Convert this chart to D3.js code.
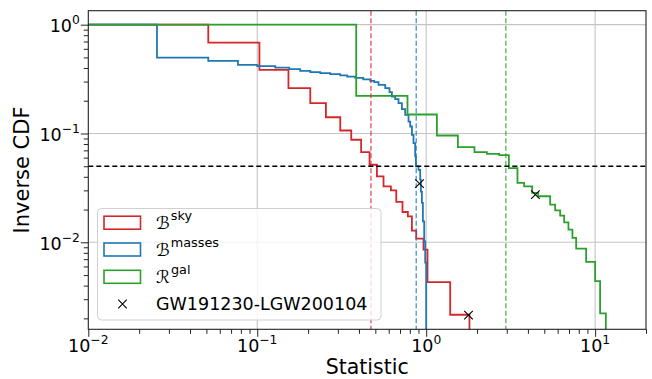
<!DOCTYPE html>
<html>
<head>
<meta charset="utf-8">
<script src="https://cdn.jsdelivr.net/npm/d3@7/dist/d3.min.js"></script>
<style>
  body { margin: 0; background: #fff; }
  svg { display: block; font-family: "DejaVu Sans", sans-serif; }
</style>
</head>
<body>
<svg width="652" height="379"></svg>
<script>
// ---- data ----
// inverse CDF steps: position of each drop and the level after it (0 = falls off the bottom)
var skyX = [0.0513, 0.103, 0.153, 0.206, 0.255, 0.310, 0.360, 0.412, 0.462, 0.511, 0.559,
            0.618, 0.665, 0.724, 0.779, 0.823, 0.873, 0.964, 1.018, 1.387, 1.803];
var skyY = [0.684, 0.384, 0.261, 0.190, 0.141, 0.1065, 0.0876, 0.0675, 0.0516, 0.0403, 0.0327,
            0.0300, 0.0235, 0.0190, 0.0173, 0.0128, 0.0108, 0.00857, 0.0043, 0.00216, 0];

var massX = [0.0255, 0.0513, 0.0769, 0.100, 0.1278, 0.1546, 0.1796, 0.206, 0.236, 0.2704, 0.310,
             0.3408, 0.380, 0.4239, 0.4662, 0.4925, 0.5223, 0.5721, 0.6065, 0.6266, 0.6556, 0.6857,
             0.7182, 0.7511, 0.7858, 0.8041, 0.8230, 0.8411, 0.8607, 0.8692, 0.9004, 0.9215, 0.9302,
             0.9432, 0.956, 0.973, 0.9865, 1.0];
var massY = [0.498, 0.4645, 0.4269, 0.4152, 0.4031, 0.3898, 0.3761, 0.3659, 0.3583, 0.3508, 0.342,
             0.3334, 0.3243, 0.3143, 0.3044, 0.2962, 0.2797, 0.2609, 0.2398, 0.2185, 0.2068, 0.190,
             0.1674, 0.1484, 0.1288, 0.1159, 0.0973, 0.0816, 0.0615, 0.0498, 0.0464, 0.0376, 0.0292,
             0.0230, 0.01558, 0.01021, 0.00651, 0];

var galX = [0.3853, 0.775, 1.157, 1.540, 1.931, 2.287, 2.704, 3.086, 3.469, 3.801, 4.239, 4.60,
            5.417, 5.799, 6.207, 6.555, 6.95, 7.339, 7.72, 8.845, 10.0, 10.70, 11.57];
var galY = [0.2218, 0.1494, 0.0958, 0.0750, 0.0675, 0.0651, 0.0633, 0.0481, 0.0351, 0.0326, 0.0285, 0.0265,
            0.02218, 0.01966, 0.01758, 0.01526, 0.01308, 0.01098, 0.00876, 0.00661, 0.00439, 0.00222, 0];

// thresholds (dashed lines) and the event values (x markers)
var threshX = [0.471, 0.873, 2.96];
var threshY = 0.05;
var eventX = [1.78, 0.913, 4.43];
var eventY = [0.00214, 0.0346, 0.0274];

var seriesNames = ["sky", "masses", "gal"];
var seriesLetters = ["\u212C", "\u212C", "\u211B"];
var colors = ["#d62728", "#1f77b4", "#2ca02c"];
var eventLabel = "GW191230-LGW200104";

var xMajor = [0.01, 0.1, 1, 10];
var xExp = ["\u22122", "\u22121", "0", "1"];
var yMajor = [0.01, 0.1, 1];
var yExp = ["\u22122", "\u22121", "0"];

// ---- layout ----
var width = 652, height = 379;
var margin = {top: 10.7, right: 6, bottom: 49.7, left: 88.3};

var svg = d3.select("svg");

var x = d3.scaleLog().domain([0.01, 20]).range([margin.left, width - margin.right]);
var y = d3.scaleLog().domain([0.001587, 1.344]).range([height - margin.bottom, margin.top]);

function minors(lo, hi) {
  var out = [];
  for (var e = -4; e <= 2; e++) {
    for (var m = 2; m <= 9; m++) {
      var v = m * Math.pow(10, e);
      if (v >= lo * 0.9999 && v <= hi * 1.0001) out.push(v);
    }
  }
  return out;
}

svg.append("defs").append("clipPath").attr("id", "plotclip")
  .append("rect")
  .attr("x", margin.left).attr("y", margin.top)
  .attr("width", width - margin.left - margin.right)
  .attr("height", height - margin.top - margin.bottom);

// grid
var grid = svg.append("g");
grid.selectAll(".gx").data(xMajor.filter(function(d){ return d > 0.01; })).enter()
  .append("line")
  .attr("x1", function(d){ return x(d); }).attr("x2", function(d){ return x(d); })
  .attr("y1", margin.top).attr("y2", height - margin.bottom)
  .attr("stroke", "#c4c4c4").attr("stroke-width", 1.1);
grid.selectAll(".gy").data(yMajor).enter()
  .append("line")
  .attr("y1", function(d){ return y(d); }).attr("y2", function(d){ return y(d); })
  .attr("x1", margin.left).attr("x2", width - margin.right)
  .attr("stroke", "#c4c4c4").attr("stroke-width", 1.1);

// step curves
var plot = svg.append("g").attr("clip-path", "url(#plotclip)");
var bottomY = y.range()[0] + 2;
var line = d3.line()
  .x(function(d){ return x(d[0]); })
  .y(function(d){ return d[1] > 0 ? y(d[1]) : bottomY; })
  .curve(d3.curveStepAfter);

var seriesX = [skyX, massX, galX];
var seriesY = [skyY, massY, galY];
seriesX.forEach(function(xs, k) {
  var pts = [[0.01, 1]].concat(xs.map(function(v, i){ return [v, seriesY[k][i]]; }));
  plot.append("path")
    .attr("d", line(pts))
    .attr("fill", "none")
    .attr("stroke", colors[k])
    .attr("stroke-width", 1.8)
    .attr("stroke-linejoin", "miter");
});

// dashed thresholds
threshX.forEach(function(v, k) {
  plot.append("line")
    .attr("x1", x(v)).attr("x2", x(v))
    .attr("y1", margin.top).attr("y2", height - margin.bottom)
    .attr("stroke", colors[k]).attr("stroke-opacity", 0.75)
    .attr("stroke-width", 1.4).attr("stroke-dasharray", "5,2.5");
});
plot.append("line")
  .attr("x1", margin.left).attr("x2", width - margin.right)
  .attr("y1", y(threshY)).attr("y2", y(threshY))
  .attr("stroke", "#000").attr("stroke-width", 1.4).attr("stroke-dasharray", "5,3");

// event markers
function xMark(g, cx, cy, r) {
  g.append("path")
    .attr("d", "M" + (cx - r) + "," + (cy - r) + "L" + (cx + r) + "," + (cy + r) +
               "M" + (cx - r) + "," + (cy + r) + "L" + (cx + r) + "," + (cy - r))
    .attr("stroke", "#000").attr("stroke-width", 1.1).attr("fill", "none");
}
eventX.forEach(function(v, i){ xMark(svg, x(v), y(eventY[i]), 4.3); });

// axes
var fontTick = 17.5, fontSup = 12.3;
var xAxisG = svg.append("g").attr("transform", "translate(0," + (height - margin.bottom) + ")");
xAxisG.call(d3.axisBottom(x).tickValues(xMajor).tickSize(7.5).tickFormat(""));
xAxisG.append("g").call(d3.axisBottom(x).tickValues(minors(0.01, 20)).tickSize(4.5).tickFormat(""));
var yAxisG = svg.append("g").attr("transform", "translate(" + margin.left + ",0)");
yAxisG.call(d3.axisLeft(y).tickValues(yMajor).tickSize(7.5).tickFormat(""));
yAxisG.append("g").call(d3.axisLeft(y).tickValues(minors(0.001587, 1.344)).tickSize(4.5).tickFormat(""));
svg.selectAll(".domain").remove();
svg.selectAll(".tick line").attr("stroke", "#222").attr("stroke-width", 1);

// frame
svg.append("rect")
  .attr("x", margin.left).attr("y", margin.top)
  .attr("width", width - margin.left - margin.right)
  .attr("height", height - margin.top - margin.bottom)
  .attr("fill", "none").attr("stroke", "#222").attr("stroke-width", 1.1);

// tick labels with superscripts
xMajor.forEach(function(v, i) {
  var t = svg.append("text")
    .attr("x", x(v)).attr("y", height - margin.bottom + 23)
    .attr("text-anchor", "middle").attr("font-size", fontTick).attr("fill", "#000");
  t.append("tspan").text("10");
  t.append("tspan").attr("dy", -8).attr("font-size", fontSup).text(xExp[i]);
});
yMajor.forEach(function(v, i) {
  var t = svg.append("text")
    .attr("x", margin.left - 8.5).attr("y", y(v) + 7.3)
    .attr("text-anchor", "end").attr("font-size", fontTick).attr("fill", "#000");
  t.append("tspan").text("10");
  t.append("tspan").attr("dy", -7.5).attr("font-size", fontSup).text(yExp[i]);
});

// axis labels
svg.append("text")
  .attr("x", (margin.left + width - margin.right) / 2).attr("y", 374)
  .attr("text-anchor", "middle").attr("font-size", 20.5).text("Statistic");
svg.append("text")
  .attr("transform", "translate(28.5," + ((margin.top + height - margin.bottom) / 2) + ") rotate(-90)")
  .attr("text-anchor", "middle").attr("font-size", 21).text("Inverse CDF");

// legend
var leg = svg.append("g");
leg.append("rect")
  .attr("x", 97.5).attr("y", 208.5).attr("width", 283.5).attr("height", 111.5).attr("rx", 4)
  .attr("fill", "#fff").attr("fill-opacity", 0.8)
  .attr("stroke", "#d0d0d0").attr("stroke-width", 1);
var rowY = [222.7, 249.5, 276.8, 304];
seriesNames.forEach(function(name, k) {
  leg.append("rect")
    .attr("x", 104).attr("y", rowY[k] - 6.5).attr("width", 36.5).attr("height", 13)
    .attr("fill", "none").attr("stroke", colors[k]).attr("stroke-width", 1.6);
  var t = leg.append("text")
    .attr("x", 156).attr("y", rowY[k] + 6).attr("font-size", 17.5).attr("fill", "#000");
  t.append("tspan").attr("font-style", "italic").text(seriesLetters[k]);
  t.append("tspan").attr("dy", -9).attr("dx", 1).attr("font-size", fontSup + 0.5).text(name);
});
xMark(leg, 122.5, rowY[3], 4.3);
leg.append("text")
  .attr("x", 156).attr("y", rowY[3] + 6.3).attr("font-size", 17.5).attr("fill", "#000")
  .text(eventLabel);
</script>
</body>
</html>
